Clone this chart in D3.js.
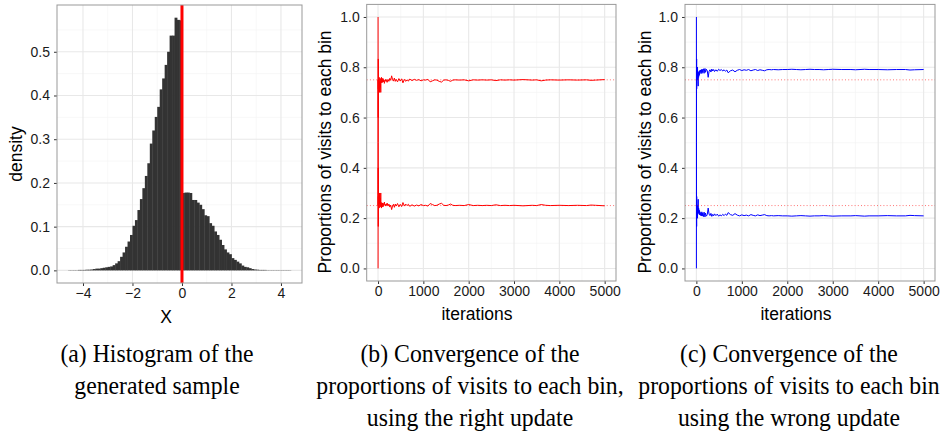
<!DOCTYPE html>
<html>
<head>
<meta charset="utf-8">
<script src="https://cdn.jsdelivr.net/npm/d3@7"></script>
<style>
body { margin: 0; background: #fff; }
svg text { font-family: "Liberation Sans", Arial, sans-serif; }
svg text.caption { font-family: "Liberation Serif", "Times New Roman", serif; }
</style>
</head>
<body>
<svg id="fig" width="949" height="438"></svg>
<script>
// (a) histogram of the sample: density of each 0.1 wide bin, first bin starts at -4.6
const binStart = -4.6;
const binWidth = 0.1;
const densities = [
  0.0005, 0.0005, 0.0005, 0.0005, 0.001, 0.001, 0.001, 0.0015, 0.0015, 0.002, 0.003,
  0.004, 0.004, 0.005, 0.006, 0.007, 0.008, 0.009, 0.012, 0.016, 0.021,
  0.031, 0.041, 0.054, 0.066, 0.081,
  0.102, 0.115, 0.138, 0.163, 0.188,
  0.216, 0.245, 0.290, 0.320, 0.351,
  0.374, 0.414, 0.439, 0.470, 0.500,
  0.537, 0.537, 0.578, 0.573, 0.572,
  0.177, 0.178, 0.178, 0.177, 0.161, 0.161, 0.155, 0.150, 0.140, 0.126,
  0.124, 0.108, 0.102, 0.089, 0.081, 0.070, 0.058, 0.048, 0.041, 0.037,
  0.028, 0.024, 0.020, 0.016, 0.011, 0.008, 0.007, 0.005, 0.003, 0.002,
  0.0015, 0.001, 0.001, 0.001, 0.0005, 0.0005, 0.0005, 0.0005, 0.0005, 0.0005,
  0.0005, 0.0005, 0.0005, 0.0005
];
const splitAt = 0;

// (b) and (c): proportion of visits to each of the two bins
const iterations = [1, 2, 3, 4, 5, 6, 7, 8, 10, 12, 15, 18, 20, 25, 30, 35, 40, 45, 50, 55, 60, 65, 70, 75, 80,
  90, 100, 110, 120, 130, 140, 150, 160, 170, 180, 190, 200, 220, 240, 260, 280, 300, 320, 340, 360, 380, 400,
  430, 460, 490, 520, 550, 580, 610, 640, 670, 700, 750, 800, 850, 900, 950, 1000,
  1050, 1100, 1150, 1200, 1250, 1300, 1350, 1400, 1450, 1500, 1550, 1600, 1650, 1700, 1800, 1900, 2000,
  2100, 2200, 2300, 2400, 2500, 2600, 2700, 2800, 2900, 3000, 3200, 3400, 3500, 3600, 3700, 3800,
  4000, 4200, 4400, 4600, 4700, 4800, 5000];

const rightHigh = [1.0, 0.5, 0.667, 0.75, 0.6, 0.833, 0.714, 0.75,
  0.7, 0.75, 0.733, 0.722, 0.75,
  0.76, 0.7, 0.743, 0.725, 0.756, 0.72, 0.745, 0.7, 0.754, 0.743, 0.76, 0.738,
  0.756, 0.74, 0.755, 0.742, 0.75, 0.736, 0.747, 0.745, 0.752, 0.744, 0.748, 0.74,
  0.752, 0.744, 0.756, 0.748, 0.766, 0.752, 0.745, 0.757, 0.744, 0.752,
  0.742, 0.755, 0.745, 0.754, 0.738, 0.752, 0.744, 0.75, 0.745, 0.753,
  0.747, 0.752, 0.748, 0.751, 0.746, 0.75,
  0.749, 0.752, 0.742, 0.746, 0.75, 0.749, 0.744, 0.741, 0.749, 0.75,
  0.748, 0.744, 0.749, 0.75, 0.749, 0.75, 0.746,
  0.75, 0.749, 0.75, 0.749, 0.75, 0.747, 0.75, 0.749, 0.75, 0.749,
  0.751, 0.749, 0.75, 0.746, 0.749, 0.75,
  0.749, 0.75, 0.749, 0.75, 0.748, 0.749, 0.751];

const rightLow = [0.0, 0.5, 0.333, 0.25, 0.4, 0.167, 0.286, 0.25,
  0.3, 0.25, 0.267, 0.278, 0.25,
  0.24, 0.3, 0.257, 0.275, 0.244, 0.28, 0.255, 0.3, 0.246, 0.257, 0.24, 0.262,
  0.244, 0.26, 0.245, 0.258, 0.25, 0.264, 0.253, 0.255, 0.248, 0.256, 0.252, 0.26,
  0.248, 0.256, 0.244, 0.252, 0.234, 0.248, 0.255, 0.243, 0.256, 0.248,
  0.258, 0.245, 0.255, 0.246, 0.262, 0.248, 0.256, 0.25, 0.255, 0.247,
  0.253, 0.248, 0.252, 0.249, 0.254, 0.25,
  0.251, 0.248, 0.258, 0.254, 0.25, 0.251, 0.256, 0.259, 0.251, 0.25,
  0.252, 0.256, 0.251, 0.25, 0.251, 0.25, 0.254,
  0.25, 0.251, 0.25, 0.251, 0.25, 0.253, 0.25, 0.251, 0.25, 0.251,
  0.249, 0.251, 0.25, 0.254, 0.251, 0.25,
  0.251, 0.25, 0.251, 0.25, 0.252, 0.251, 0.249];

const wrongHigh = [1.0, 0.5, 0.667, 0.75, 0.8, 0.833, 0.714, 0.75,
  0.8, 0.75, 0.8, 0.778, 0.75,
  0.8, 0.767, 0.743, 0.725, 0.778, 0.76, 0.782, 0.767, 0.785, 0.771, 0.787, 0.775,
  0.789, 0.78, 0.791, 0.775, 0.792, 0.779, 0.787, 0.794, 0.776, 0.789, 0.795, 0.78,
  0.792, 0.786, 0.76, 0.784, 0.79, 0.781, 0.793, 0.785, 0.791, 0.783,
  0.79, 0.784, 0.792, 0.787, 0.791, 0.785, 0.79, 0.784, 0.789, 0.778,
  0.786, 0.789, 0.782, 0.788, 0.791, 0.787,
  0.79, 0.788, 0.791, 0.786, 0.789, 0.791, 0.787, 0.79, 0.788, 0.786,
  0.79, 0.791, 0.79, 0.791, 0.79, 0.791, 0.791,
  0.792, 0.791, 0.79, 0.791, 0.792, 0.791, 0.791, 0.79, 0.791, 0.792,
  0.791, 0.791, 0.79, 0.791, 0.792, 0.791,
  0.791, 0.79, 0.791, 0.791, 0.789, 0.79, 0.791];

const wrongLow = [0.0, 0.5, 0.333, 0.25, 0.2, 0.167, 0.286, 0.25,
  0.2, 0.25, 0.2, 0.222, 0.25,
  0.2, 0.233, 0.257, 0.275, 0.222, 0.24, 0.218, 0.233, 0.215, 0.229, 0.213, 0.225,
  0.211, 0.22, 0.209, 0.225, 0.208, 0.221, 0.213, 0.206, 0.224, 0.211, 0.205, 0.22,
  0.208, 0.214, 0.24, 0.216, 0.21, 0.219, 0.207, 0.215, 0.209, 0.217,
  0.21, 0.216, 0.208, 0.213, 0.209, 0.215, 0.21, 0.216, 0.211, 0.222,
  0.214, 0.211, 0.218, 0.212, 0.209, 0.213,
  0.21, 0.212, 0.209, 0.214, 0.211, 0.209, 0.213, 0.21, 0.212, 0.214,
  0.21, 0.209, 0.21, 0.209, 0.21, 0.209, 0.209,
  0.208, 0.209, 0.21, 0.209, 0.208, 0.209, 0.209, 0.21, 0.209, 0.208,
  0.209, 0.209, 0.21, 0.209, 0.208, 0.209,
  0.209, 0.21, 0.209, 0.209, 0.211, 0.21, 0.209];

const targets = [0.25, 0.75];

// ticks
const histXTicks = [-4, -2, 0, 2, 4];
const histXMinor = [-3, -1, 1, 3];
const histYTicks = [0, 0.1, 0.2, 0.3, 0.4, 0.5];
const histYMinor = [0.05, 0.15, 0.25, 0.35, 0.45, 0.55];
const iterTicks = [0, 1000, 2000, 3000, 4000, 5000];
const iterMinor = [500, 1500, 2500, 3500, 4500];
const propTicks = [0, 0.2, 0.4, 0.6, 0.8, 1.0];
const propMinor = [0.1, 0.3, 0.5, 0.7, 0.9];

const captions = [
  ["(a) Histogram of the", "generated sample"],
  ["(b) Convergence of the", "proportions of visits to each bin,", "using the right update"],
  ["(c) Convergence of the", "proportions of visits to each bin", "using the wrong update"]
];

const svg = d3.select("#fig");
svg.append("rect").attr("width", 949).attr("height", 438).attr("fill", "#fff");

function panel(o) {
  const g = svg.append("g");
  const x = d3.scaleLinear().domain(o.xDomain).range([o.left, o.right]);
  const y = d3.scaleLinear().domain(o.yDomain).range([o.bottom, o.top]);

  const grid = g.append("g");
  grid.selectAll(".vmin").data(o.xMinor).enter().append("line")
    .attr("x1", d => x(d)).attr("x2", d => x(d)).attr("y1", o.top).attr("y2", o.bottom)
    .attr("stroke", "#f3f3f3").attr("stroke-width", 0.6);
  grid.selectAll(".hmin").data(o.yMinor).enter().append("line")
    .attr("y1", d => y(d)).attr("y2", d => y(d)).attr("x1", o.left).attr("x2", o.right)
    .attr("stroke", "#f3f3f3").attr("stroke-width", 0.6);
  grid.selectAll(".vmaj").data(o.xTicks).enter().append("line")
    .attr("x1", d => x(d)).attr("x2", d => x(d)).attr("y1", o.top).attr("y2", o.bottom)
    .attr("stroke", "#e8e8e8").attr("stroke-width", 1.1);
  grid.selectAll(".hmaj").data(o.yTicks).enter().append("line")
    .attr("y1", d => y(d)).attr("y2", d => y(d)).attr("x1", o.left).attr("x2", o.right)
    .attr("stroke", "#e8e8e8").attr("stroke-width", 1.1);

  const plot = g.append("g");

  const xAxis = g.append("g").attr("transform", `translate(0,${o.bottom})`)
    .call(d3.axisBottom(x).tickValues(o.xTicks).tickSize(3).tickPadding(2).tickFormat(o.xFormat));
  const yAxis = g.append("g").attr("transform", `translate(${o.left},0)`)
    .call(d3.axisLeft(y).tickValues(o.yTicks).tickSize(3).tickPadding(4).tickFormat(o.yFormat));
  [xAxis, yAxis].forEach(a => {
    a.select(".domain").remove();
    a.selectAll(".tick line").attr("stroke", "#333");
    a.selectAll(".tick text").attr("fill", "#1a1a1a").style("font-size", "14px")
      .style("font-family", "'Liberation Sans', Arial, sans-serif");
  });

  g.append("text").attr("x", o.xTitleX).attr("y", o.xTitleY).attr("text-anchor", "middle")
    .style("font-size", "17.5px").attr("fill", "#000").text(o.xTitle);
  g.append("text").attr("transform", `translate(${o.yTitleX},${o.yTitleY}) rotate(-90)`)
    .attr("text-anchor", "middle").attr("dominant-baseline", "central")
    .style("font-size", "17.5px").attr("fill", "#000").text(o.yTitle);

  return { g, plot, x, y, o };
}

function border(p) {
  const o = p.o;
  p.g.append("rect").attr("x", o.left).attr("y", o.top)
    .attr("width", o.right - o.left).attr("height", o.bottom - o.top)
    .attr("fill", "none").attr("stroke", "#999").attr("stroke-width", 1);
}

// (a)
const pa = panel({
  left: 57, right: 302, top: 5, bottom: 283,
  xDomain: [-5.05, 4.85], yDomain: [-0.0289, 0.607],
  xTicks: histXTicks, xMinor: histXMinor, yTicks: histYTicks, yMinor: histYMinor,
  xFormat: d3.format("d"), yFormat: d3.format(".1f"),
  xTitle: "X", xTitleX: 166, xTitleY: 323,
  yTitle: "density", yTitleX: 16, yTitleY: 154
});
pa.plot.selectAll("rect").data(densities).enter().append("rect")
  .attr("x", (d, i) => pa.x(binStart + i * binWidth))
  .attr("width", (d, i) => pa.x(binStart + (i + 1) * binWidth) - pa.x(binStart + i * binWidth) + 0.4)
  .attr("y", d => pa.y(d))
  .attr("height", d => pa.y(0) - pa.y(d))
  .attr("fill", "#333");
pa.plot.append("line")
  .attr("x1", pa.x(splitAt)).attr("x2", pa.x(splitAt))
  .attr("y1", pa.o.top).attr("y2", pa.o.bottom)
  .attr("stroke", "#ff0000").attr("stroke-width", 3);
border(pa);

// (b) and (c)
function convergence(left, right, high, low, colour, titleX, yTitleX) {
  const p = panel({
    left: left, right: right, top: 4.4, bottom: 281,
    xDomain: [-250, 5250], yDomain: [-0.05, 1.05],
    xTicks: iterTicks, xMinor: iterMinor, yTicks: propTicks, yMinor: propMinor,
    xFormat: d3.format("d"), yFormat: d3.format(".1f"),
    xTitle: "iterations", xTitleX: titleX, xTitleY: 320,
    yTitle: "Proportions of visits to each bin", yTitleX: yTitleX, yTitleY: 152
  });
  const line = d3.line().x((d, i) => p.x(iterations[i])).y(d => p.y(d));
  [high, low].forEach(s => {
    p.plot.append("path").datum(s).attr("d", line)
      .attr("fill", "none").attr("stroke", colour).attr("stroke-width", 1)
      .attr("stroke-linejoin", "round");
  });
  p.plot.selectAll(".target").data(targets).enter().append("line")
    .attr("x1", p.o.left).attr("x2", p.o.right)
    .attr("y1", d => p.y(d)).attr("y2", d => p.y(d))
    .attr("stroke", "#ff0000").attr("stroke-opacity", 0.55).attr("stroke-width", 1)
    .attr("stroke-dasharray", "1,2.2");
  border(p);
  return p;
}
convergence(366.7, 616, rightHigh, rightLow, "#ff0000", 477, 325);
convergence(685, 935, wrongHigh, wrongLow, "#0000ff", 796, 645);

// captions
const capCentres = [157, 470, 789];
const capG = svg.append("g");
captions.forEach((lines, k) => {
  capG.selectAll(null).data(lines).enter().append("text")
    .attr("class", "caption")
    .attr("transform", (d, i) => `translate(${capCentres[k]},${362 + i * 32}) scale(0.95,1)`)
    .attr("text-anchor", "middle")
    .style("font-size", "25px")
    .attr("fill", "#000")
    .text(d => d);
});
</script>
</body>
</html>
